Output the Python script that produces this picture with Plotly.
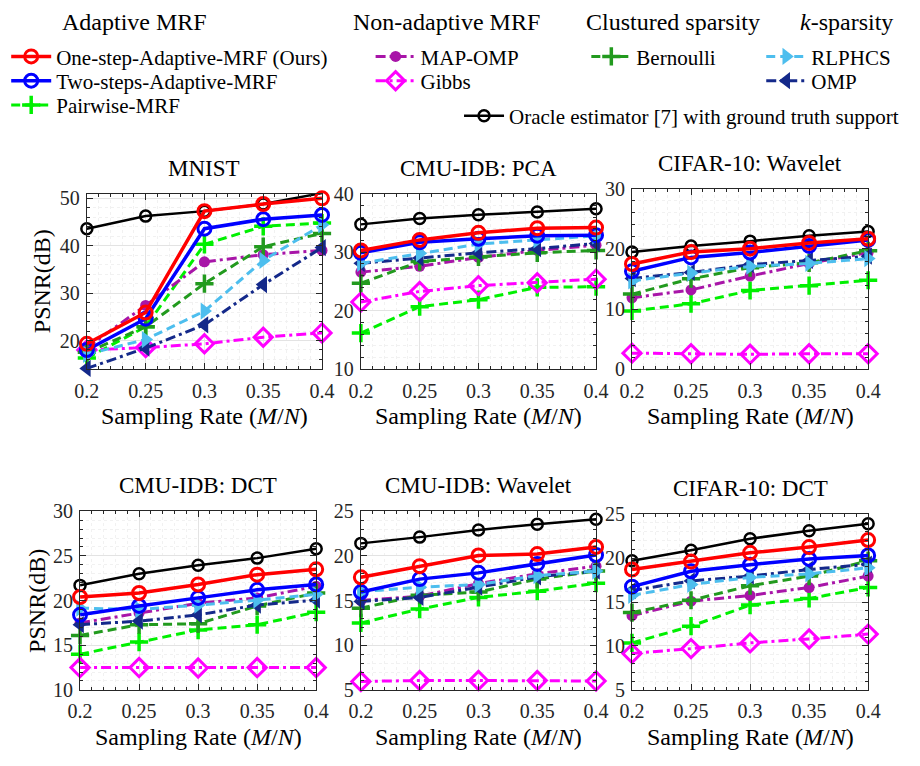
import plotly.graph_objects as go

W, H = 920, 766
FONT = "Liberation Serif, Times New Roman, serif"

rates = [0.2, 0.25, 0.3, 0.35, 0.4]
panel_titles = ["MNIST", "CMU-IDB: PCA", "CIFAR-10: Wavelet",
                "CMU-IDB: DCT", "CMU-IDB: Wavelet", "CIFAR-10: DCT"]
x_ticks = [0.2, 0.25, 0.3, 0.35, 0.4]
x_tick_labels = ["0.2", "0.25", "0.3", "0.35", "0.4"]
y_ticks = [[20, 30, 40, 50], [10, 20, 30, 40], [0, 10, 20, 30],
           [10, 15, 20, 25, 30], [5, 10, 15, 20, 25], [5, 10, 15, 20, 25]]
y_ranges = [[13.9, 51], [10, 40], [0, 30], [10, 30], [5, 25], [5, 25]]

# PSNR (dB) per panel: MNIST, CMU-PCA, CIFAR-Wavelet, CMU-DCT, CMU-Wavelet, CIFAR-DCT
oracle = [[43.6, 46.25, 47.3, 48.8, 51.1],
          [34.75, 35.75, 36.4, 36.85, 37.4],
          [19.5, 20.5, 21.3, 22.2, 22.9],
          [21.7, 23.0, 23.95, 24.75, 25.8],
          [21.4, 22.1, 22.9, 23.55, 24.1],
          [19.7, 20.9, 22.2, 23.1, 23.9]]
one_step = [[19.3, 25.9, 47.3, 48.8, 50.0],
            [30.3, 32.1, 33.3, 34.1, 34.2],
            [17.5, 19.5, 20.05, 21.0, 21.7],
            [20.4, 20.85, 21.8, 22.9, 23.5],
            [17.6, 18.85, 20.05, 20.2, 21.0],
            [18.7, 19.6, 20.6, 21.25, 22.05]]
two_steps = [[18.0, 24.6, 43.6, 45.6, 46.5],
             [29.9, 31.7, 32.3, 32.8, 32.9],
             [16.3, 18.6, 19.4, 20.5, 21.5],
             [18.4, 19.4, 20.3, 21.2, 21.8],
             [15.95, 17.4, 18.1, 19.1, 20.1],
             [16.75, 18.5, 19.25, 19.9, 20.3]]
pairwise = [[16.3, 22.9, 40.3, 44.1, 44.8],
            [16.2, 20.7, 21.9, 24.0, 24.1],
            [9.7, 10.9, 13.1, 13.9, 14.8],
            [14.0, 15.35, 16.7, 17.3, 18.7],
            [12.5, 14.05, 15.35, 16.05, 16.95],
            [10.35, 12.25, 14.65, 15.4, 16.65]]
map_omp = [[18.5, 27.4, 36.6, 38.1, 39.0],
           [26.6, 27.6, 29.1, 30.3, 31.2],
           [11.9, 13.2, 15.5, 17.6, 19.4],
           [17.5, 18.6, 19.7, 20.3, 21.6],
           [15.0, 15.5, 16.9, 18.0, 18.85],
           [13.45, 15.1, 15.75, 16.65, 17.95]]
gibbs = [[18.0, 18.5, 19.3, 20.7, 21.6],
         [21.5, 23.3, 24.3, 24.8, 25.4],
         [2.7, 2.6, 2.5, 2.6, 2.6],
         [12.5, 12.5, 12.45, 12.5, 12.5],
         [5.95, 6.05, 6.05, 6.05, 6.0],
         [9.15, 9.7, 10.35, 10.8, 11.35]]
bernoulli = [[17.5, 22.9, 32.0, 39.8, 42.6],
             [24.7, 28.4, 29.2, 29.9, 30.3],
             [12.5, 15.05, 16.9, 17.7, 19.7],
             [16.1, 17.3, 17.4, 19.4, 20.85],
             [14.15, 15.6, 15.95, 17.4, 18.3],
             [13.8, 15.2, 16.85, 17.95, 19.7]]
rlphcs = [[17.1, 20.2, 26.2, 36.9, 44.4],
          [28.1, 29.8, 31.4, 32.1, 32.8],
          [14.7, 16.0, 17.1, 17.6, 18.4],
          [19.15, 19.0, 19.5, 20.05, 20.7],
          [16.0, 16.5, 16.8, 17.8, 18.3],
          [15.75, 17.0, 17.8, 18.2, 18.9]]
omp = [[14.1, 18.4, 23.3, 31.8, 39.6],
       [28.1, 29.0, 29.9, 30.6, 31.5],
       [15.1, 16.1, 17.4, 18.1, 18.8],
       [17.3, 17.7, 18.4, 19.5, 20.05],
       [14.9, 15.35, 16.5, 17.65, 18.3],
       [16.3, 17.4, 17.95, 18.7, 19.3]]

method_names = ["Oracle estimator [7] with ground truth support",
                "Pairwise-MRF", "Gibbs", "MAP-OMP", "Bernoulli",
                "OMP", "RLPHCS", "Two-steps-Adaptive-MRF",
                "One-step-Adaptive-MRF (Ours)"]
method_data = [oracle, pairwise, gibbs, map_omp, bernoulli, omp, rlphcs,
               two_steps, one_step]

DASHDOT = "10px,4px,3px,4px"
DASH = "9px,5px"
# styles (drawing order); legend placement: (text left px, row centre px)
styles = [
    dict(color="#000000", dash="solid", width=2.5, symbol="circle-open", size=11, mlw=2.5, pos=(521, 117)),
    dict(color="#00F000", dash=DASH, width=3, symbol="cross-thin-open", size=13, mlw=3.5, pos=(55, 106)),
    dict(color="#FF00FF", dash=DASHDOT, width=3, symbol="diamond-open", size=14, mlw=3, pos=(430, 81)),
    dict(color="#A815A8", dash=DASHDOT, width=3, symbol="circle", size=11, mlw=0, pos=(430, 56)),
    dict(color="#229A1E", dash=DASH, width=3, symbol="cross-thin-open", size=13, mlw=3.5, pos=(652, 56)),
    dict(color="#14298A", dash=DASHDOT, width=3, symbol="triangle-left", size=15, mlw=0, pos=(832, 81)),
    dict(color="#4DBEEE", dash=DASH, width=3, symbol="triangle-right", size=15, mlw=0, pos=(832, 56)),
    dict(color="#0000FF", dash="solid", width=3.5, symbol="circle-open", size=13, mlw=3, pos=(55, 81)),
    dict(color="#FF0000", dash="solid", width=3.5, symbol="circle-open", size=13, mlw=3, pos=(55, 56)),
]

# panel placement in pixels: (left, right, top, bottom)
boxes = [(76, 318, 188, 369), (358, 600, 188, 369), (637, 880, 183, 369),
         (69, 312, 515, 699), (358, 600, 515, 699), (637, 880, 518, 699)]

fig = go.Figure()

legend_layouts = {}
for m, st in enumerate(styles):
    key = "legend" if m == 0 else "legend%d" % (m + 1)
    st["legend"] = key
    tx, ty = st["pos"]
    legend_layouts[key] = dict(
        x=(tx - 62) / W, y=1 - (ty - 30) / H, xanchor="left", yanchor="top",
        bgcolor="rgba(0,0,0,0)", borderwidth=0, itemwidth=40,
        font=dict(family=FONT, size=21, color="#000"),
        itemclick=False, itemdoubleclick=False)

for p in range(6):
    ax = "" if p == 0 else str(p + 1)
    for m, (name, data) in enumerate(zip(method_names, method_data)):
        st = styles[m]
        fig.add_trace(go.Scatter(
            x=rates, y=data[p], name=name, mode="lines+markers",
            xaxis="x" + ax, yaxis="y" + ax,
            line=dict(color=st["color"], width=st["width"], dash=st["dash"]),
            marker=dict(symbol=st["symbol"], size=st["size"], color=st["color"],
                        line=dict(color=st["color"], width=st["mlw"])),
            cliponaxis=False,
            showlegend=(p == 0), legend=st["legend"],
        ))

annotations = []
for p, (l, r, t, b) in enumerate(boxes):
    ax = "" if p == 0 else str(p + 1)
    common = dict(
        showline=True, linecolor="#262626", linewidth=1.2, mirror="ticks",
        ticks="inside", ticklen=6, tickcolor="#262626",
        showgrid=True, gridcolor="#e3e3e3", gridwidth=1, zeroline=False,
        tickfont=dict(family=FONT, size=20, color="#262626"),
    )
    fig.layout["xaxis" + ax] = dict(
        domain=[l / W, r / W], range=[0.2, 0.4], anchor="y" + ax,
        tickvals=x_ticks, ticktext=x_tick_labels, ticklabelstandoff=3,
        minor=dict(dtick=0.01, tick0=0.2, ticks="inside", ticklen=3, tickcolor="#262626",
                   showgrid=True, gridcolor="#f1f1f1", griddash="dot"),
        **common)
    yt = y_ticks[p]
    step = yt[1] - yt[0]
    fig.layout["yaxis" + ax] = dict(
        domain=[1 - b / H, 1 - t / H], range=y_ranges[p], anchor="x" + ax,
        tickvals=yt, ticktext=[str(v) for v in yt], ticklabelstandoff=2,
        minor=dict(dtick=step / 5, tick0=0, ticks="inside", ticklen=3, tickcolor="#262626",
                   showgrid=True, gridcolor="#f1f1f1", griddash="dot"),
        **common)
    cx = (l + r) / 2 / W
    annotations.append(dict(text=panel_titles[p], x=cx, y=1 - (t - 26) / H,
                            xref="paper", yref="paper", showarrow=False,
                            xanchor="center", yanchor="middle",
                            font=dict(family=FONT, size=23, color="#000")))
    annotations.append(dict(text="Sampling Rate (<i>M</i>/<i>N</i>)", x=cx,
                            y=1 - (b + 48) / H, xref="paper", yref="paper",
                            showarrow=False, xanchor="center", yanchor="middle",
                            font=dict(family=FONT, size=24, color="#000")))

annotations.append(dict(text="PSNR(dB)", x=30 / W, y=1 - 278 / H, textangle=-90,
                        xref="paper", yref="paper", showarrow=False,
                        xanchor="center", yanchor="middle",
                        font=dict(family=FONT, size=24, color="#000")))
annotations.append(dict(text="PSNR(dB)", x=24 / W, y=1 - 607 / H, textangle=-90,
                        xref="paper", yref="paper", showarrow=False,
                        xanchor="center", yanchor="middle",
                        font=dict(family=FONT, size=24, color="#000")))

headers = [("Adaptive MRF", 48), ("Non-adaptive MRF", 348),
           ("Clustured sparsity", 588), ("<i>k</i>-sparsity", 808)]
for txt, lx in headers:
    annotations.append(dict(text=txt, x=lx / W, y=1 + 4 / H, xref="paper", yref="paper",
                            showarrow=False, xanchor="left", yanchor="top",
                            font=dict(family=FONT, size=24, color="#000")))

fig.update_layout(
    width=W, height=H, margin=dict(l=0, r=0, t=0, b=0),
    paper_bgcolor="white", plot_bgcolor="white",
    annotations=annotations,
    **legend_layouts,
)

fig.write_html("out.html")
